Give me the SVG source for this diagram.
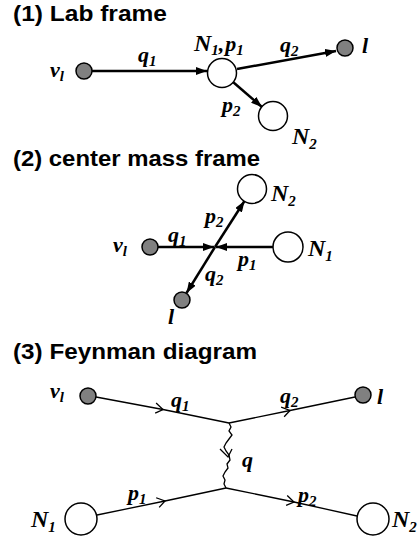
<svg xmlns="http://www.w3.org/2000/svg" width="420" height="541" viewBox="0 0 420 541">
<style>
.title{font-family:"Liberation Sans",Arial,sans-serif;font-weight:bold;font-size:22px;fill:#000}
.m{font-family:"Liberation Serif","Times New Roman",serif;font-weight:bold;font-style:italic;font-size:22px;fill:#000}
.n{font-size:24px}
.s{font-size:15px}
.lep{fill:#808080;stroke:#000;stroke-width:1.5}
.nuc{fill:#fff;stroke:#000;stroke-width:1.5}
.thick{fill:none;stroke:#000;stroke-width:2.5}
.thin{fill:none;stroke:#000;stroke-width:1.3}
</style>
<defs>
<marker id="arr" markerUnits="userSpaceOnUse" markerWidth="11" markerHeight="8" refX="11" refY="4" orient="auto">
<path d="M0,0 L11,4 L0,8 z" fill="#000"/>
</marker>
<marker id="chev" markerUnits="userSpaceOnUse" markerWidth="10" markerHeight="10" refX="8" refY="5" orient="auto" overflow="visible">
<path d="M0,0 L8,5 L1,10" fill="none" stroke="#000" stroke-width="1.3"/>
</marker>
</defs>
<rect width="420" height="541" fill="#fff"/>

<text class="title" x="13" y="21" textLength="154" lengthAdjust="spacingAndGlyphs">(1) Lab frame</text>
<text class="title" x="13" y="166" textLength="247" lengthAdjust="spacingAndGlyphs">(2) center mass frame</text>
<text class="title" x="13" y="359" textLength="244" lengthAdjust="spacingAndGlyphs">(3) Feynman diagram</text>

<g id="connectors">
<!-- (1) lab frame -->
<path class="thick" d="M92,71 L207,71" stroke-width="2" marker-end="url(#arr)"/>
<path class="thick" d="M237,69 L336,51" marker-end="url(#arr)"/>
<path class="thick" d="M233,82 L262,107" stroke-width="3.5" marker-end="url(#arr)"/>
<!-- (2) center mass frame -->
<path class="thick" d="M158,247 L214,247" stroke-width="3" marker-end="url(#arr)"/>
<path class="thick" d="M273,247 L216,247" stroke-width="3" marker-end="url(#arr)"/>
<path class="thick" d="M215,247 L244.5,201" stroke-width="3" marker-end="url(#arr)"/>
<path class="thick" d="M215,247 L186.5,293" stroke-width="3" marker-end="url(#arr)"/>
<!-- (3) Feynman diagram -->
<path class="thin" d="M96,397 L163,409.5 L229,423" marker-mid="url(#chev)"/>
<path class="thin" d="M229,423 L290,410.5 L355,397" marker-mid="url(#chev)"/>
<path class="thin" d="M97,515 L165,501 L226,488" marker-mid="url(#chev)"/>
<path class="thin" d="M226,488 L294,502 L357,516" marker-mid="url(#chev)"/>
<path class="thin" d="M229,423 L231,427 L229,431 L232,435 L229,439 L226,443 L224,447 L226,451 L229,455 L230,460 L227,464 L228,468 L225,472 L223,476 L225,480 L224,484 L226,488"/>
<path class="thin" d="M220,449 L228,457 L232,449"/>
</g>

<g id="lab-nu">
<circle class="lep" cx="84" cy="71" r="8"/>
<text class="m" x="50" y="77">ν<tspan class="s" dy="4">l</tspan></text>
</g>
<g id="lab-N1">
<circle class="nuc" cx="222" cy="73" r="14.5"/>
<text class="m" x="194" y="51"><tspan class="n">N</tspan><tspan class="s" dy="4">1</tspan><tspan dy="-4">,</tspan><tspan dx="1">p</tspan><tspan class="s" dy="4">1</tspan></text>
</g>
<g id="lab-l">
<circle class="lep" cx="345" cy="48" r="8"/>
<text class="m" x="362" y="53">l</text>
</g>
<g id="lab-N2">
<circle class="nuc" cx="273" cy="116" r="14.5"/>
<text class="m" x="292" y="144"><tspan class="n">N</tspan><tspan class="s" dy="5">2</tspan></text>
</g>
<g id="lab-labels">
<text class="m" x="138" y="62">q<tspan class="s" dy="4">1</tspan></text>
<text class="m" x="280" y="52">q<tspan class="s" dy="4">2</tspan></text>
<text class="m" x="222" y="112">p<tspan class="s" dy="4">2</tspan></text>
</g>

<g id="cm-nu">
<circle class="lep" cx="150" cy="247" r="8"/>
<text class="m" x="113" y="252">ν<tspan class="s" dy="4">l</tspan></text>
</g>
<g id="cm-N1">
<circle class="nuc" cx="288" cy="247" r="15"/>
<text class="m" x="308" y="256"><tspan class="n">N</tspan><tspan class="s" dy="5">1</tspan></text>
</g>
<g id="cm-N2">
<circle class="nuc" cx="252" cy="189" r="14.5"/>
<text class="m" x="271" y="201"><tspan class="n">N</tspan><tspan class="s" dy="5">2</tspan></text>
</g>
<g id="cm-l">
<circle class="lep" cx="182" cy="300" r="8"/>
<text class="m" x="168" y="324">l</text>
</g>
<g id="cm-labels">
<text class="m" x="168" y="242">q<tspan class="s" dy="4">1</tspan></text>
<text class="m" x="205" y="223">p<tspan class="s" dy="4">2</tspan></text>
<text class="m" x="238" y="266">p<tspan class="s" dy="4">1</tspan></text>
<text class="m" x="205" y="281">q<tspan class="s" dy="4">2</tspan></text>
</g>

<g id="fd-nu">
<circle class="lep" cx="88" cy="396" r="8"/>
<text class="m" x="50" y="398">ν<tspan class="s" dy="4">l</tspan></text>
</g>
<g id="fd-l">
<circle class="lep" cx="363" cy="395" r="8"/>
<text class="m" x="377" y="404">l</text>
</g>
<g id="fd-N1">
<circle class="nuc" cx="81" cy="519" r="16"/>
<text class="m" x="31" y="527"><tspan class="n">N</tspan><tspan class="s" dy="5">1</tspan></text>
</g>
<g id="fd-N2">
<circle class="nuc" cx="373" cy="519" r="16"/>
<text class="m" x="392" y="527"><tspan class="n">N</tspan><tspan class="s" dy="5">2</tspan></text>
</g>
<g id="fd-labels">
<text class="m" x="171" y="407">q<tspan class="s" dy="4">1</tspan></text>
<text class="m" x="280" y="403">q<tspan class="s" dy="4">2</tspan></text>
<text class="m" x="242" y="467">q</text>
<text class="m" x="128" y="500">p<tspan class="s" dy="4">1</tspan></text>
<text class="m" x="298" y="502">p<tspan class="s" dy="4">2</tspan></text>
</g>
</svg>
